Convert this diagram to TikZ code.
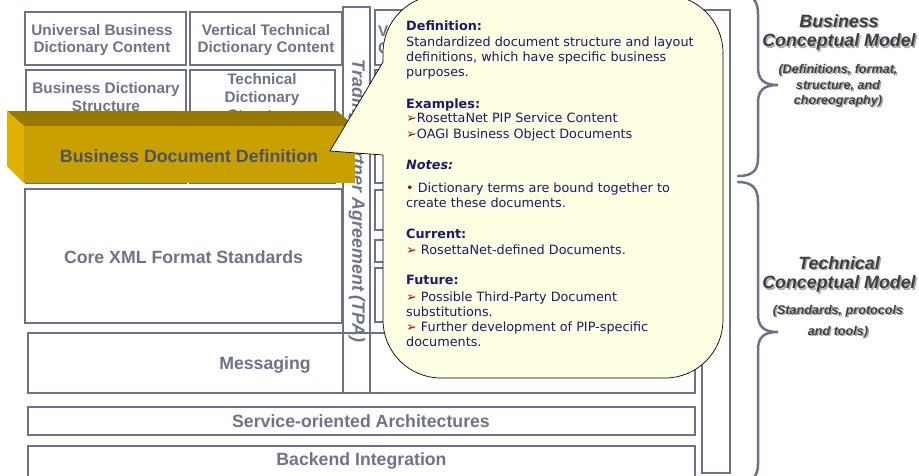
\documentclass[tikz,border=0pt]{standalone}
\usepackage{fontspec}
\setsansfont{Liberation Sans}
\newfontfamily\verd{DejaVu Sans}
\definecolor{boxgray}{HTML}{6B7389}
\definecolor{labgray}{HTML}{6E7488}
\definecolor{bargray}{HTML}{4F5262}
\definecolor{navy}{HTML}{1A1A6E}
\definecolor{markred}{HTML}{8B1A1A}
\definecolor{goldfront}{HTML}{C8A000}
\definecolor{goldtop}{HTML}{977800}
\definecolor{goldside}{HTML}{E0B000}
\definecolor{notefill}{HTML}{FFFFE3}
\definecolor{headgray}{HTML}{3E3E44}
\definecolor{shadowgray}{HTML}{A8A8A8}
\tikzset{
  layer/.style={draw=boxgray, line width=2.6pt},
  smalllab/.style={font=\sffamily\bfseries\fontsize{15.3}{17}\selectfont, text=labgray, align=center, inner sep=0pt},
  biglab/.style={font=\sffamily\bfseries\fontsize{17.7}{20}\selectfont, text=labgray, inner sep=0pt},
  note/.style={font=\verd\fontsize{12.8}{15}\selectfont, text=navy, anchor=base west, inner sep=0pt},
  modelhead/.style={font=\sffamily\bfseries\itshape\fontsize{17.8}{21}\selectfont, inner sep=0pt},
  modelsub/.style={font=\sffamily\bfseries\itshape\fontsize{12.6}{15.5}\selectfont, inner sep=0pt},
  brace/.style={draw=boxgray, line width=2.5pt, line cap=round}
}
\newcommand{\mk}{\textcolor{markred}{➢}}
\begin{document}
\begin{tikzpicture}[x=1pt,y=-1pt]
\useasboundingbox[fill=white] (0,0) rectangle (919,475);

% layer boxes
\draw[layer] (25,12) rectangle (186,65);
\draw[layer] (190,12) rectangle (342,65);
\draw[layer] (26,70) rectangle (186,183);
\draw[layer] (190,70) rectangle (335,183);
\draw[layer] (25,189) rectangle (342,323);
\draw[layer] (28,333) rectangle (695,393);
\draw[layer] (28,407) rectangle (695,435);
\draw[layer] (28,446) rectangle (695,484);
\draw[layer] (343,7) rectangle (370,393);
\draw[layer] (375,10) rectangle (695,65);
\draw[layer] (375,70) rectangle (695,183);
\draw[layer] (375,190) rectangle (695,230);
\draw[layer] (375,240) rectangle (695,262);
\draw[layer] (375,268) rectangle (695,322);
\draw[layer] (702,10) rectangle (730,473);

% layer labels
\node[smalllab] (ubdc) at (102,40) {Universal Business\\Dictionary Content};
\node[smalllab] (vtdc) at (266,40) {Vertical Technical\\Dictionary Content};
\node[smalllab, font=\sffamily\bfseries\fontsize{15.3}{18}\selectfont] (bds) at (106,97) {Business Dictionary\\Structure};
\node[smalllab, font=\sffamily\bfseries\fontsize{15.3}{18}\selectfont] (tds) at (262,97) {Technical\\Dictionary\\Structure};
\node[smalllab, align=left, anchor=west] (vbdc) at (378,40) {V\\C};
\node[biglab] (core) at (183.5,257) {Core XML Format Standards};
\node[biglab] (msg) at (265,365) {Messaging};
\node[biglab] (soa) at (361,421) {Service-oriented Architectures};
\node[biglab] (bkend) at (361.5,461) {Backend Integration};
\node[biglab, font=\sffamily\bfseries\itshape\fontsize{17.9}{20}\selectfont, rotate=-90] (tpa) at (357,201) {Trading Partner Agreement (TPA)};

% raised bar
\fill[goldtop] (7,111) -- (337,111) -- (355,126) -- (24,126) -- cycle;
\fill[goldside] (7,111) -- (24,126) -- (24,183) -- (7,166) -- cycle;
\fill[goldfront] (24,126) rectangle (355,183);
\node[biglab, text=bargray, font=\sffamily\bfseries\fontsize{17.8}{20}\selectfont] (bdd) at (189,156) {Business Document Definition};

% callout
\draw[fill=notefill, draw=black, line width=0.7pt]
  (383,62) -- (330,151) -- (383,155) -- (383,320)
  arc[start angle=180, end angle=90, radius=58] -- (665,378)
  arc[start angle=90, end angle=0, radius=58] -- (723,53)
  arc[start angle=0, end angle=-90, radius=58] -- (441,-5)
  arc[start angle=270, end angle=180, radius=58] -- cycle;

\node[note] (n1) at (406,30.5) {\bfseries Definition:};
\node[note] (n2) at (406,46) {Standardized document structure and layout};
\node[note] (n3) at (406,61) {definitions, which have specific business};
\node[note] (n4) at (406,76) {purposes.};
\node[note] (n5) at (406,108.5) {\bfseries Examples:};
\node[note] (n6) at (406,122.5) {\mk RosettaNet PIP Service Content};
\node[note] (n7) at (406,138.5) {\mk OAGI Business Object Documents};
\node[note] (n8) at (406,169.5) {\bfseries\itshape Notes:};
\node[note] (n9) at (406,192.5) {\textcolor{markred}{•} Dictionary terms are bound together to};
\node[note] (n10) at (406,207.5) {create these documents.};
\node[note] (n11) at (406,238.5) {\bfseries Current:};
\node[note] (n12) at (406,254) {\mk\ RosettaNet-defined Documents.};
\node[note] (n13) at (406,284.5) {\bfseries Future:};
\node[note] (n14) at (406,301) {\mk\ Possible Third-Party Document};
\node[note] (n15) at (406,316) {substitutions.};
\node[note] (n16) at (406,331) {\mk\ Further development of PIP-specific};
\node[note] (n17) at (406,346.5) {documents.};

% model braces
\draw[brace] (738,-6) .. controls (752,-6) and (758,0) .. (758,14) -- (758,67)
  .. controls (758,80) and (764,85) .. (778,85)
  .. controls (764,85) and (758,90) .. (758,103) -- (758,158)
  .. controls (758,171) and (752,176) .. (738,176);
\draw[brace] (738,182) .. controls (752,182) and (758,188) .. (758,202) -- (758,314)
  .. controls (758,327) and (764,332) .. (778,332)
  .. controls (764,332) and (758,337) .. (758,350) -- (758,464)
  .. controls (758,477) and (752,482) .. (738,482);

% model captions with soft shadow
\foreach \dx/\col in {1.5/shadowgray, 0/headgray}{
  \node[modelhead, text=\col] (bh1\col) at (839+\dx,21+\dx) {Business};
  \node[modelhead, text=\col] (bh2\col) at (839+\dx,42+\dx) {Conceptual Model};
  \node[modelsub, text=\col] (bs1\col) at (838+\dx,70+\dx) {(Definitions, format,};
  \node[modelsub, text=\col] (bs2\col) at (838+\dx,85.5+\dx) {structure, and};
  \node[modelsub, text=\col] (bs3\col) at (838+\dx,101+\dx) {choreography)};
  \node[modelhead, text=\col] (th1\col) at (839+\dx,263+\dx) {Technical};
  \node[modelhead, text=\col] (th2\col) at (839+\dx,284+\dx) {Conceptual Model};
  \node[modelsub, text=\col] (ts1\col) at (838+\dx,311+\dx) {(Standards, protocols};
  \node[modelsub, text=\col] (ts2\col) at (838+\dx,332+\dx) {and tools)};
}
\end{tikzpicture}
\end{document}
